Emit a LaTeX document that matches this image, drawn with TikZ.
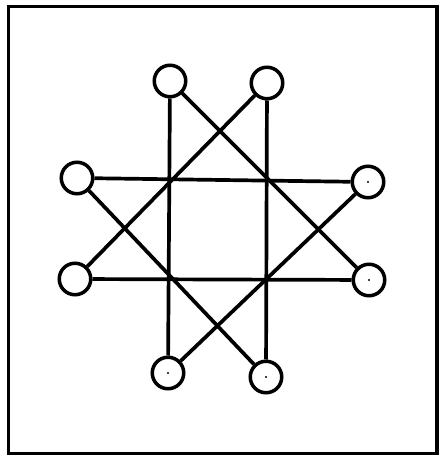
\documentclass[tikz,border=0pt]{standalone}
\begin{document}
\begin{tikzpicture}[x=1pt,y=1pt,
  peg/.style={circle,draw=black,line width=3.5pt,minimum size=31.5pt,inner sep=0pt,fill=white},
  link/.style={line width=3.7pt,black},
  frame/.style={line width=3.5pt,black},
  dot/.style={circle,fill=black,inner sep=0pt,minimum size=2.2pt}]
\useasboundingbox (0,0) rectangle (442,456);
\fill[white] (0,0) rectangle (442,456);
\draw[frame] (8.5,2.5) rectangle (437,449.5);
% pegs (image y flipped: 456 - y)
\node[peg] (tl) at (170,375) {};
\node[peg] (tr) at (267,373) {};
\node[peg] (lt) at (77,278) {};
\node[peg] (lb) at (75,177) {};
\node[peg] (rt) at (368,274) {};
\node[peg] (rb) at (369,176) {};
\node[peg] (bl) at (168,83) {};
\node[peg] (br) at (266,79) {};
% connectors
\draw[link] (tl) -- (bl);
\draw[link] (tr) -- (br);
\draw[link] (lt) -- (rt);
\draw[link] (lb) -- (rb);
\draw[link] (tl) -- (rb);
\draw[link] (tr) -- (lb);
\draw[link] (lt) -- (br);
\draw[link] (rt) -- (bl);
% small centre dots
\node[dot] (d1) at (rt) {};
\node[dot] (d2) at (rb) {};
\node[dot] (d3) at (bl) {};
\node[dot] (d4) at (br) {};
\end{tikzpicture}
\end{document}
